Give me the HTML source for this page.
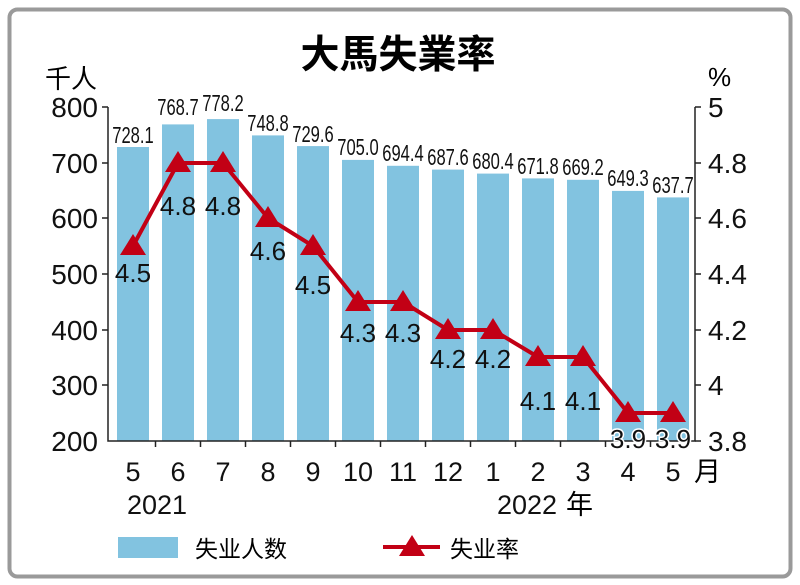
<!DOCTYPE html>
<html><head><meta charset="utf-8"><style>
html,body{margin:0;padding:0;background:#fff}
svg{display:block}
</style></head><body>
<svg width="800" height="585" viewBox="0 0 800 585" xmlns="http://www.w3.org/2000/svg" font-family="Liberation Sans, 'Noto Sans CJK SC', sans-serif">
<rect x="9.5" y="9.5" width="781" height="567" rx="8" fill="#fff" stroke="#9a9a9a" stroke-width="4"/>
<text x="398" y="68" text-anchor="middle" font-size="39" font-weight="bold" font-family="'Noto Sans CJK SC', sans-serif">大馬失業率</text>
<text x="45" y="88" font-size="26" font-family="'Noto Sans CJK SC', sans-serif">千人</text>
<text x="708" y="86" font-size="26">%</text>
<g fill="#82c3e0">
<rect x="117" y="147.0" width="32" height="294.0"/>
<rect x="162" y="124.4" width="32" height="316.6"/>
<rect x="207" y="119.1" width="32" height="321.9"/>
<rect x="252" y="135.4" width="32" height="305.6"/>
<rect x="297" y="146.1" width="32" height="294.9"/>
<rect x="342" y="159.9" width="32" height="281.1"/>
<rect x="387" y="165.8" width="32" height="275.2"/>
<rect x="432" y="169.6" width="32" height="271.4"/>
<rect x="477" y="173.6" width="32" height="267.4"/>
<rect x="522" y="178.4" width="32" height="262.6"/>
<rect x="567" y="179.8" width="32" height="261.2"/>
<rect x="612" y="190.9" width="32" height="250.1"/>
<rect x="657" y="197.4" width="32" height="243.6"/>
</g>
<g stroke="#222" stroke-width="1.5" fill="none">
<path d="M108 107V441H695V107"/>
<path d="M102 107H108M102 163H108M102 218H108M102 274H108M102 330H108M102 385H108"/>
<path d="M695 107H701M695 163H701M695 218H701M695 274H701M695 330H701M695 385H701M695 441H701"/>
<path d="M155.5 441v6M200.5 441v6M245.5 441v6M290.5 441v6M335.5 441v6M380.5 441v6M425.5 441v6M470.5 441v6M515.5 441v6M560.5 441v6M605.5 441v6M650.5 441v6"/>
</g>
<g font-size="28" text-anchor="end" fill="#111">
<text x="98" y="117">800</text><text x="98" y="173">700</text><text x="98" y="228">600</text>
<text x="98" y="284">500</text><text x="98" y="340">400</text><text x="98" y="395">300</text><text x="98" y="451">200</text>
</g>
<g font-size="28" fill="#111">
<text x="708" y="117">5</text><text x="708" y="173">4.8</text><text x="708" y="228">4.6</text>
<text x="708" y="284">4.4</text><text x="708" y="340">4.2</text><text x="708" y="395">4</text><text x="708" y="451">3.8</text>
</g>
<g font-size="23" text-anchor="middle" fill="#111" transform="scale(0.72,1)">
<text x="184.7" y="143">728.1</text><text x="247.2" y="115">768.7</text><text x="309.7" y="111">778.2</text>
<text x="372.2" y="131">748.8</text><text x="434.7" y="142">729.6</text><text x="497.2" y="155">705.0</text>
<text x="559.7" y="161">694.4</text><text x="622.2" y="165">687.6</text><text x="684.7" y="169">680.4</text>
<text x="747.2" y="174">671.8</text><text x="809.7" y="175">669.2</text><text x="872.2" y="186">649.3</text><text x="934.7" y="193">637.7</text>
</g>
<polyline points="133,246 178,163 223,163 268,218 313,246 358,302 403,302 448,330 493,330 538,357 583,357 628,413 673,413" fill="none" stroke="#c20015" stroke-width="4"/>
<g fill="#c20015">
<path d="M133,234 l-13,21 h26z"/><path d="M178,151 l-13,21 h26z"/><path d="M223,151 l-13,21 h26z"/>
<path d="M268,206 l-13,21 h26z"/><path d="M313,234 l-13,21 h26z"/><path d="M358,290 l-13,21 h26z"/>
<path d="M403,290 l-13,21 h26z"/><path d="M448,318 l-13,21 h26z"/><path d="M493,318 l-13,21 h26z"/>
<path d="M538,345 l-13,21 h26z"/><path d="M583,345 l-13,21 h26z"/><path d="M628,401 l-13,21 h26z"/><path d="M673,401 l-13,21 h26z"/>
</g>
<g font-size="26" text-anchor="middle" fill="#111">
<text x="133" y="282">4.5</text><text x="178" y="215">4.8</text><text x="223" y="215">4.8</text>
<text x="268" y="260">4.6</text><text x="313" y="294">4.5</text><text x="358" y="342">4.3</text>
<text x="403" y="342">4.3</text><text x="448" y="368">4.2</text><text x="493" y="368">4.2</text>
<text x="538" y="410">4.1</text><text x="583" y="410">4.1</text>
<text x="628" y="448" stroke="#fff" stroke-width="3" paint-order="stroke">3.9</text><text x="673" y="448" stroke="#fff" stroke-width="3" paint-order="stroke">3.9</text>
</g>
<g font-size="27" text-anchor="middle" fill="#111">
<text x="133" y="481">5</text><text x="178" y="481">6</text><text x="223" y="481">7</text><text x="268" y="481">8</text>
<text x="313" y="481">9</text><text x="358" y="481">10</text><text x="403" y="481">11</text><text x="448" y="481">12</text>
<text x="493" y="481">1</text><text x="538" y="481">2</text><text x="583" y="481">3</text><text x="628" y="481">4</text><text x="673" y="481">5</text>
<text x="157" y="514">2021</text><text x="527" y="514">2022</text>
</g>
<text x="694" y="481" font-size="27" font-family="'Noto Sans CJK SC', sans-serif">月</text>
<text x="566" y="514" font-size="27" font-family="'Noto Sans CJK SC', sans-serif">年</text>
<rect x="118" y="537" width="60" height="21" fill="#82c3e0"/>
<text x="195" y="557" font-size="23" font-family="'Noto Sans CJK SC', sans-serif">失业人数</text>
<path d="M383 547H440" stroke="#c20015" stroke-width="4"/>
<path d="M412,535 l-13,21 h26z" fill="#c20015"/>
<text x="450" y="557" font-size="23" font-family="'Noto Sans CJK SC', sans-serif">失业率</text>
</svg>
</body></html>
